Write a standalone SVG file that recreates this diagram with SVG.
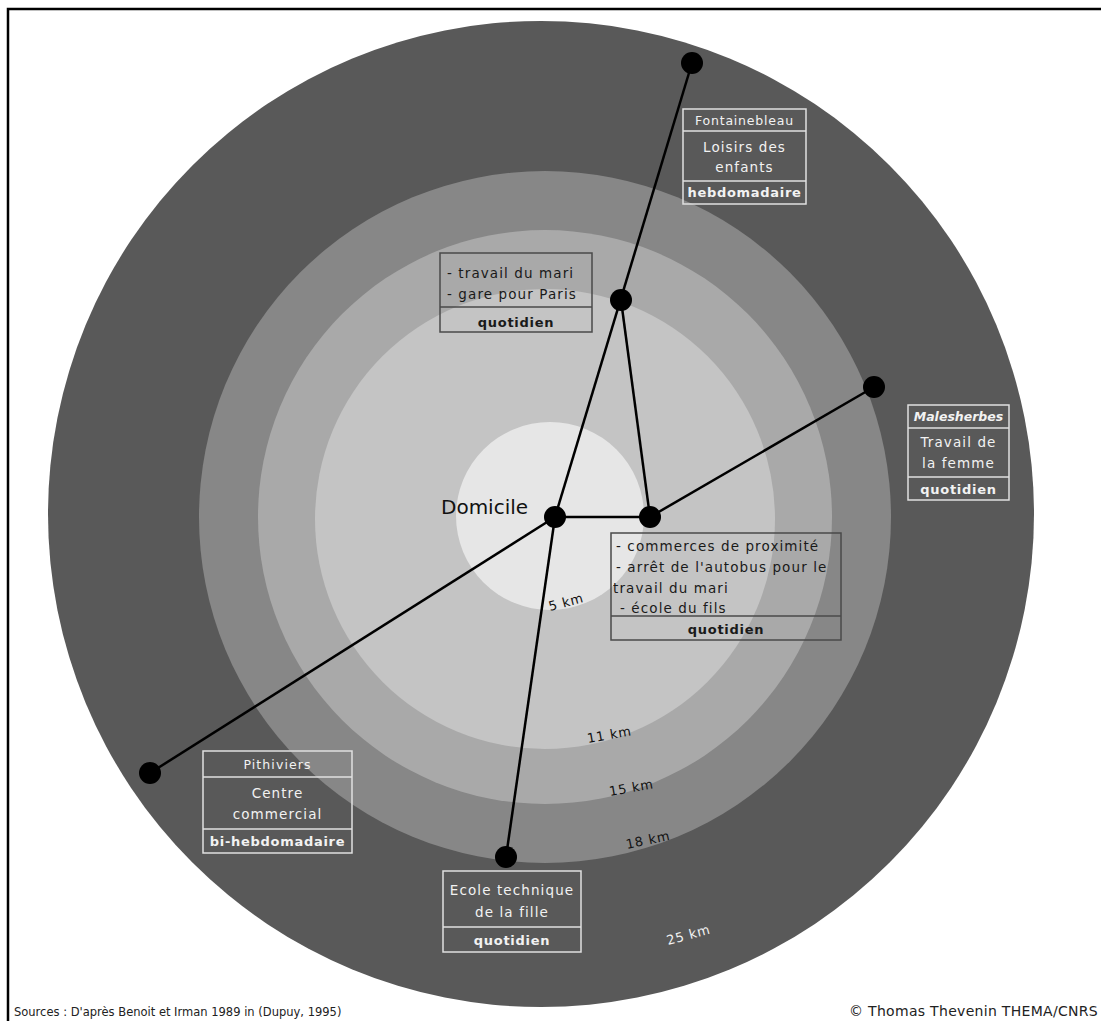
<svg xmlns="http://www.w3.org/2000/svg" width="1101" height="1021" viewBox="0 0 1101 1021">
<style>
.ring{stroke:none}
.lbox{fill:none;stroke:#e0e0e0;stroke-width:1.5}
.dbox{fill:none;stroke:#4a4a4a;stroke-width:1.5}
.lt{fill:#f2f2f2;font-family:"DejaVu Sans","Liberation Sans",sans-serif;font-size:13.5px;letter-spacing:1.1px;text-anchor:middle}
.dt{fill:#1a1a1a;font-family:"DejaVu Sans","Liberation Sans",sans-serif;font-size:13.5px;letter-spacing:1.1px}
.b{font-weight:bold;font-size:13px;letter-spacing:0.7px}
.km{fill:#111;font-family:"DejaVu Sans","Liberation Sans",sans-serif;font-size:13px;letter-spacing:0.8px}
.con{stroke:#000;stroke-width:2.5;fill:none}
.dot{fill:#000}
.foot{fill:#222;font-family:"DejaVu Sans","Liberation Sans",sans-serif;font-size:11.5px}
</style>
<rect x="0" y="0" width="1101" height="1021" fill="#fff"/>
<path d="M8 1021 V9 H1101" fill="none" stroke="#000" stroke-width="2.5"/>
<g id="rings">
<circle class="ring" cx="541" cy="514" r="493" fill="#595959"/>
<circle class="ring" cx="545" cy="517" r="346" fill="#878787"/>
<circle class="ring" cx="545" cy="517" r="287" fill="#a9a9a9"/>
<circle class="ring" cx="545" cy="519" r="230" fill="#c4c4c4"/>
<circle class="ring" cx="550" cy="516" r="94" fill="#e6e6e6"/>
</g>
<g id="scale-labels">
<text class="km" transform="translate(550,611) rotate(-15)">5 km</text>
<text class="km" transform="translate(588,743) rotate(-10)">11 km</text>
<text class="km" transform="translate(610,796) rotate(-10)">15 km</text>
<text class="km" transform="translate(627,849) rotate(-12)">18 km</text>
<text class="km" style="fill:#f2f2f2" transform="translate(668,945) rotate(-15)">25 km</text>
</g>
<g id="connectors">
<line class="con" x1="555" y1="517" x2="692" y2="63"/>
<line class="con" x1="621" y1="300" x2="650" y2="517"/>
<line class="con" x1="555" y1="517" x2="650" y2="517"/>
<line class="con" x1="650" y1="517" x2="874" y2="387"/>
<line class="con" x1="555" y1="517" x2="150" y2="773"/>
<line class="con" x1="555" y1="517" x2="506" y2="857"/>
</g>
<g id="domicile">
<circle class="dot" cx="555" cy="517" r="11"/>
<text x="441" y="514" style="fill:#111;font-family:'DejaVu Sans','Liberation Sans',sans-serif;font-size:20px">Domicile</text>
</g>
<g id="fontainebleau">
<circle class="dot" cx="692" cy="63" r="11"/>
<rect class="lbox" x="683" y="109" width="123" height="95"/>
<line class="lbox" x1="683" y1="131" x2="806" y2="131"/>
<line class="lbox" x1="683" y1="181" x2="806" y2="181"/>
<text class="lt" x="744.5" y="125" style="font-size:12.5px;letter-spacing:0.8px">Fontainebleau</text>
<text class="lt" x="744.5" y="152">Loisirs des</text>
<text class="lt" x="744.5" y="172">enfants</text>
<text class="lt b" x="744.5" y="197">hebdomadaire</text>
</g>
<g id="gare">
<circle class="dot" cx="621" cy="300" r="11"/>
<rect class="dbox" x="440" y="253" width="152" height="79"/>
<line class="dbox" x1="440" y1="307" x2="592" y2="307"/>
<text class="dt" x="447" y="278">- travail du mari</text>
<text class="dt" x="447" y="299">- gare pour Paris</text>
<text class="dt b" x="516" y="327" text-anchor="middle">quotidien</text>
</g>
<g id="malesherbes">
<circle class="dot" cx="874" cy="387" r="11"/>
<rect class="lbox" x="908" y="405" width="101" height="95"/>
<line class="lbox" x1="908" y1="428" x2="1009" y2="428"/>
<line class="lbox" x1="908" y1="477" x2="1009" y2="477"/>
<text class="lt b" x="958.5" y="421" font-style="italic" style="font-size:12.5px;letter-spacing:0px">Malesherbes</text>
<text class="lt" x="958.5" y="447">Travail de</text>
<text class="lt" x="958.5" y="468">la femme</text>
<text class="lt b" x="958.5" y="494">quotidien</text>
</g>
<g id="proximite">
<circle class="dot" cx="650" cy="517" r="11"/>
<rect class="dbox" x="611" y="533" width="230" height="107"/>
<line class="dbox" x1="611" y1="616" x2="841" y2="616"/>
<text class="dt" x="616" y="551">- commerces de proximité</text>
<text class="dt" x="616" y="572">- arrêt de l'autobus pour le</text>
<text class="dt" x="613" y="593">travail du mari</text>
<text class="dt" x="620" y="613">- école du fils</text>
<text class="dt b" x="726" y="634" text-anchor="middle">quotidien</text>
</g>
<g id="pithiviers">
<circle class="dot" cx="150" cy="773" r="11"/>
<rect class="lbox" x="203" y="751" width="149" height="102"/>
<line class="lbox" x1="203" y1="777" x2="352" y2="777"/>
<line class="lbox" x1="203" y1="829" x2="352" y2="829"/>
<text class="lt" x="277.5" y="769" style="font-size:12.5px">Pithiviers</text>
<text class="lt" x="277.5" y="798">Centre</text>
<text class="lt" x="277.5" y="819">commercial</text>
<text class="lt b" x="277.5" y="846">bi-hebdomadaire</text>
</g>
<g id="ecole">
<circle class="dot" cx="506" cy="857" r="11"/>
<rect class="lbox" x="443" y="871" width="138" height="81"/>
<line class="lbox" x1="443" y1="927" x2="581" y2="927"/>
<text class="lt" x="512" y="895">Ecole technique</text>
<text class="lt" x="512" y="917">de la fille</text>
<text class="lt b" x="512" y="945">quotidien</text>
</g>
<g id="footer">
<text class="foot" x="14" y="1016">Sources : D'après Benoit et Irman 1989 in (Dupuy, 1995)</text>
<text class="foot" x="1098" y="1016" text-anchor="end" style="font-size:14px;letter-spacing:0.3px">© Thomas Thevenin THEMA/CNRS</text>
</g>
</svg>
